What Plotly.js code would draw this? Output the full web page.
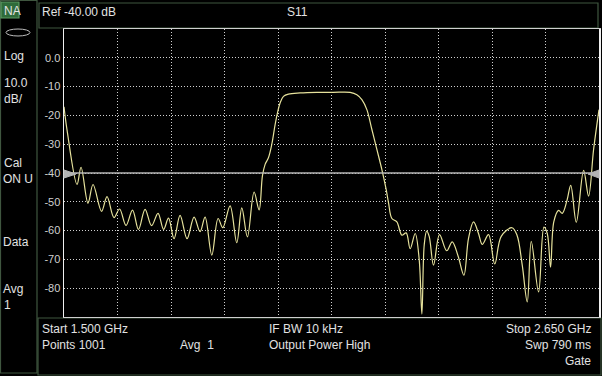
<!DOCTYPE html>
<html>
<head>
<meta charset="utf-8">
<script src="https://cdn.plot.ly/plotly-3.0.1.min.js"></script>
<style>
html,body{margin:0;padding:0;background:#000;}
#chart{width:602px;height:376px;}
</style>
</head>
<body>
<div id="chart"></div>
<script>
// Frequency (GHz) and S11 magnitude (dB)
const freqGHz = [
  1.5000,1.5065,1.5280,1.5366,1.5516,1.5624,1.5807,1.5925,1.6075,1.6194,
  1.6333,1.6473,1.6602,1.6742,1.6882,1.7021,1.7140,1.7247,1.7366,1.7495,
  1.7645,1.7796,1.7925,1.8033,1.8177,1.8312,1.8413,1.8570,1.8714,1.8822,
  1.8942,1.9086,1.9194,1.9265,1.9323,1.9394,1.9467,1.9538,1.9596,1.9645,
  1.9717,1.9824,2.0076,2.0435,2.0785,2.1151,2.1295,2.1403,2.1510,2.1618,
  2.1725,2.1833,2.1925,2.1975,2.2048,2.2155,2.2263,2.2355,2.2441,2.2549,
  2.2635,2.2693,2.2743,2.2796,2.2850,2.2943,2.3072,2.3226,2.3345,2.3474,
  2.3596,2.3695,2.3803,2.3910,2.3990,2.4125,2.4259,2.4398,2.4629,2.4736,
  2.4850,2.4958,2.5044,2.5201,2.5317,2.5388,2.5459,2.5528,2.5631,2.5711,
  2.5812,2.5893,2.6012,2.6169,2.6276,2.6384,2.6500
];
const s11dB = [
  -17,-25,-44,-38,-50.5,-44,-53.3,-48.2,-55.5,-52.5,
  -58.2,-52.9,-59.6,-52.6,-58.3,-54,-59.6,-55.7,-62.8,-54.7,
  -62.8,-55.3,-60.4,-55.3,-68.5,-55.8,-59,-51.4,-64.2,-52.1,
  -62.2,-46.6,-52.8,-41,-37,-34.7,-30,-23.2,-18.6,-15.7,
  -13.4,-12.6,-12.2,-12,-12,-12,-12.8,-14.5,-18,-24.9,
  -31.8,-38.8,-45.7,-50.3,-55.8,-57,-61.6,-60.8,-66.3,-61,
  -70,-89,-65,-60.2,-62,-72,-61.4,-67,-63.9,-69,
  -75.5,-62.7,-57,-61,-64.8,-61.4,-71.6,-62,-59,-61.5,
  -72,-84.8,-63.7,-81.3,-58.8,-61,-72.7,-57,-53,-54,
  -49.5,-44.3,-57.1,-39.1,-48,-31.8,-18
];
const yTickVals = [0,-10,-20,-30,-40,-50,-60,-70,-80];
const yTickText = ['0.0','-10','-20','-30','-40','-50','-60','-70','-80'];
const refLevel = -40;
const startGHz = 1.5, stopGHz = 2.65;

// layout helpers (pixel -> paper)
const W = 602, H = 376;
const L = 64, R = 599, T = 29, B = 317;
const px = x => (x - L) / (R - L);
const py = y => (B - y) / (B - T);

const txtColor = '#e2e2e2';
const border = '#3f563f';
const fontFam = 'Liberation Sans, Arial, sans-serif';

function ann(text, x, y, anchor) {
  return {text: text, xref:'paper', yref:'paper', x: px(x), y: py(y),
    xanchor: anchor || 'left', yanchor:'middle', showarrow:false,
    font:{family:fontFam, size:12, color:txtColor}};
}
function rect(x0,y0,x1,y1,color,fill,w){
  return {type:'rect', xref:'paper', yref:'paper', x0:px(x0), x1:px(x1), y0:py(y0), y1:py(y1),
    line:{color:color, width:w||1.2}, fillcolor: fill||'rgba(0,0,0,0)', layer:'below'};
}

const shapes = [
  rect(0.5,0.5,37,373,border),
  rect(39,3,598,28,border),
  rect(38,318,601,375,border),
  rect(1,2,19,18,'#5a9a62','#2f6b3a'),
  {type:'circle', xref:'paper', yref:'paper', x0:px(6), x1:px(30), y0:py(29), y1:py(36),
    line:{color:'#bdbdbd', width:1}},
  {type:'line', xref:'paper', yref:'y', x0:0, x1:1, y0:refLevel, y1:refLevel,
    line:{color:'#b4b4b4', width:1.5}},
  {type:'path', xref:'paper', yref:'paper',
    path:`M ${px(64)} ${py(170)} L ${px(76)} ${py(174)} L ${px(64)} ${py(178)} Z`,
    fillcolor:'#b4b4b4', line:{color:'#b4b4b4', width:1}},
  {type:'path', xref:'paper', yref:'paper',
    path:`M ${px(599)} ${py(170)} L ${px(588)} ${py(174)} L ${px(599)} ${py(178)} Z`,
    fillcolor:'#b4b4b4', line:{color:'#b4b4b4', width:1}}
];

const annotations = [
  ann('NA', 2, 11),
  ann('Log', 2, 56),
  ann('10.0', 2, 83),
  ann('dB/', 2, 99),
  ann('Cal', 2, 163),
  ann('ON U', 1, 179),
  ann('Data', 1, 242),
  ann('Avg', 1, 289),
  ann('1', 2, 305),
  ann('Ref -40.00 dB', 40, 12),
  ann('S11', 297, 12, 'center'),
  ann('Start 1.500 GHz', 40, 329),
  ann('Points 1001', 40, 345),
  ann('Avg  1', 178, 345),
  ann('IF BW 10 kHz', 267, 329),
  ann('Output Power High', 267, 345),
  ann('Stop 2.650 GHz', 593, 329, 'right'),
  ann('Swp 790 ms', 593, 345, 'right'),
  ann('Gate', 593, 361, 'right')
];

const trace = {
  x: freqGHz, y: s11dB, type:'scatter', mode:'lines',
  line:{color:'#e6e29c', width:1.2, shape:'spline', smoothing:1.0},
  hoverinfo:'skip'
};

const layout = {
  width: W, height: H,
  margin:{l:L, r:W-R, t:T, b:H-B, pad:0},
  paper_bgcolor:'#000', plot_bgcolor:'#000',
  showlegend:false,
  font:{family:fontFam, size:11, color:txtColor},
  xaxis:{range:[startGHz, stopGHz], tick0:startGHz, dtick:0.115, showticklabels:false,
    ticks:'', showgrid:true, gridcolor:'#d0d0d0', griddash:'1px,2px', gridwidth:1,
    zeroline:false, showline:true, linecolor:'#cfcfcf', linewidth:1, mirror:true},
  yaxis:{range:[-90, 10], tickvals:yTickVals, ticktext:yTickText, ticks:'',
    showgrid:true, gridcolor:'#d0d0d0', griddash:'1px,2px', gridwidth:1,
    zeroline:false, showline:true, linecolor:'#f0f0f0', linewidth:1.5, mirror:true,
    tickfont:{family:fontFam, size:11, color:'#cfcfcf'}},
  shapes: shapes,
  annotations: annotations
};

Plotly.newPlot('chart', [trace], layout, {staticPlot:true, displayModeBar:false});
</script>
</body>
</html>
